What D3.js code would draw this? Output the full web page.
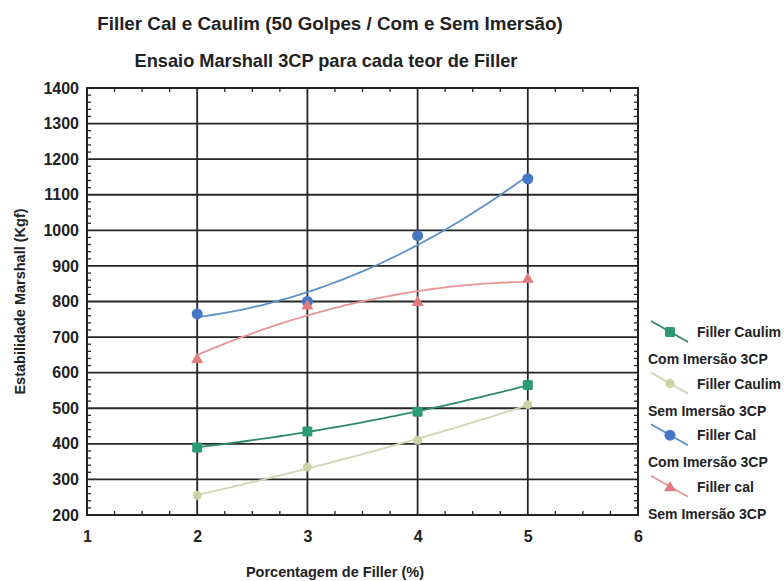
<!DOCTYPE html>
<html>
<head>
<meta charset="utf-8">
<script src="https://cdn.jsdelivr.net/npm/d3@7"></script>
<style>
  html, body { margin: 0; padding: 0; background: #fff; }
  svg text { font-family: "Liberation Sans", Arial, sans-serif; font-weight: bold; fill: #222; }
</style>
</head>
<body>
<svg id="chart" width="784" height="581"></svg>
<script>
// Filler content (%) tested
const fillerPct = [2, 3, 4, 5];

// Marshall stability (Kgf) for each mix
const caulimCom = [390, 435, 490, 565];
const caulimSem = [255, 335, 410, 510];
const calCom    = [765, 800, 985, 1145];
const calSem    = [640, 790, 800, 865];

// Axis ticks
const xTicks = [1, 2, 3, 4, 5, 6];
const yTicks = [200, 300, 400, 500, 600, 700, 800, 900, 1000, 1100, 1200, 1300, 1400];

const seriesNames = [
  ["Filler Caulim", "Com Imersão 3CP"],
  ["Filler Caulim", "Sem Imersão 3CP"],
  ["Filler Cal", "Com Imersão 3CP"],
  ["Filler cal", "Sem Imersão 3CP"]
];

const series = [
  { values: caulimCom, shape: "square",   fill: "#2c9a78", line: "#2f8a6c" },
  { values: caulimSem, shape: "circle",   fill: "#c9d3a3", line: "#cdd7b2", r: 4.5 },
  { values: calCom,    shape: "circle",   fill: "#4677c6", line: "#5b90c8", r: 5.5 },
  { values: calSem,    shape: "triangle", fill: "#e07c7c", line: "#e69696" }
];

const svg = d3.select("#chart");
const plot = { left: 87, right: 638, top: 88, bottom: 515 };

const x = d3.scaleLinear().domain([1, 6]).range([plot.left, plot.right]);
const y = d3.scaleLinear().domain([200, 1400]).range([plot.bottom, plot.top]);

// Titles
svg.append("text").attr("x", 330).attr("y", 30).attr("text-anchor", "middle")
  .style("font-size", "18.8px").text("Filler Cal e Caulim (50 Golpes / Com e Sem Imersão)");
svg.append("text").attr("x", 326).attr("y", 67).attr("text-anchor", "middle")
  .style("font-size", "18.2px").text("Ensaio Marshall 3CP para cada teor de Filler");

// Grid lines
const grid = svg.append("g").attr("stroke", "#262626").attr("stroke-width", 1.8);
grid.selectAll(".gy").data(yTicks).join("line")
  .attr("x1", plot.left).attr("x2", plot.right)
  .attr("y1", d => y(d)).attr("y2", d => y(d));
grid.selectAll(".gx").data(xTicks).join("line")
  .attr("y1", plot.top).attr("y2", plot.bottom)
  .attr("x1", d => x(d)).attr("x2", d => x(d));

// Minor ticks on all four sides, pointing inward
const xMinor = d3.range(1, 6.001, 0.25).filter(v => Math.abs(v - Math.round(v)) > 1e-6);
const yMinor = d3.range(200, 1400.1, 20).filter(v => v % 100 !== 0);
const minor = svg.append("g").attr("stroke", "#262626").attr("stroke-width", 1.3);
xMinor.forEach(v => {
  minor.append("line").attr("x1", x(v)).attr("x2", x(v)).attr("y1", plot.bottom).attr("y2", plot.bottom - 4);
  minor.append("line").attr("x1", x(v)).attr("x2", x(v)).attr("y1", plot.top).attr("y2", plot.top + 4);
});
yMinor.forEach(v => {
  minor.append("line").attr("y1", y(v)).attr("y2", y(v)).attr("x1", plot.left).attr("x2", plot.left + 4);
  minor.append("line").attr("y1", y(v)).attr("y2", y(v)).attr("x1", plot.right).attr("x2", plot.right - 4);
});

// Frame
svg.append("rect").attr("x", plot.left).attr("y", plot.top)
  .attr("width", plot.right - plot.left).attr("height", plot.bottom - plot.top)
  .attr("fill", "none").attr("stroke", "#222").attr("stroke-width", 2);

// Tick labels
const yAxis = d3.axisLeft(y).tickValues(yTicks).tickFormat(d3.format("d")).tickSize(0).tickPadding(8);
const gy = svg.append("g").attr("transform", `translate(${plot.left},0)`).call(yAxis);
gy.select(".domain").remove();
gy.selectAll("text").style("font-size", "16px").attr("fill", "#222");

const xAxis = d3.axisBottom(x).tickValues(xTicks).tickFormat(d3.format("d")).tickSize(0).tickPadding(16);
const gx = svg.append("g").attr("transform", `translate(0,${plot.bottom})`).call(xAxis);
gx.select(".domain").remove();
gx.selectAll("text").style("font-size", "16px").attr("fill", "#222");

// Axis titles
svg.append("text").attr("x", 335).attr("y", 577).attr("text-anchor", "middle")
  .style("font-size", "14.5px").text("Porcentagem de Filler (%)");
svg.append("text").attr("transform", `translate(25,${(plot.top + plot.bottom) / 2}) rotate(-90)`)
  .attr("text-anchor", "middle").style("font-size", "14.5px").text("Estabilidade Marshall (Kgf)");

// Least-squares quadratic trend for each series
function quadFit(xs, ys) {
  const n = xs.length;
  let s = [0, 0, 0, 0, 0], t = [0, 0, 0];
  for (let i = 0; i < n; i++) {
    for (let k = 0; k < 5; k++) s[k] += Math.pow(xs[i], k);
    for (let k = 0; k < 3; k++) t[k] += ys[i] * Math.pow(xs[i], k);
  }
  const A = [[s[0], s[1], s[2], t[0]], [s[1], s[2], s[3], t[1]], [s[2], s[3], s[4], t[2]]];
  for (let c = 0; c < 3; c++) {
    for (let r = c + 1; r < 3; r++) {
      const f = A[r][c] / A[c][c];
      for (let k = c; k < 4; k++) A[r][k] -= f * A[c][k];
    }
  }
  const b = [0, 0, 0];
  for (let r = 2; r >= 0; r--) {
    let v = A[r][3];
    for (let k = r + 1; k < 3; k++) v -= A[r][k] * b[k];
    b[r] = v / A[r][r];
  }
  return v => b[0] + b[1] * v + b[2] * v * v;
}

const line = d3.line().x(d => x(d[0])).y(d => y(d[1]));
const xs = d3.range(fillerPct[0], fillerPct[fillerPct.length - 1] + 1e-9, 0.05);

function drawMarker(g, s, cx, cy) {
  if (s.shape === "circle") {
    g.append("circle").attr("cx", cx).attr("cy", cy).attr("r", s.r).attr("fill", s.fill);
  } else if (s.shape === "square") {
    g.append("rect").attr("x", cx - 5).attr("y", cy - 5).attr("width", 10).attr("height", 10)
      .attr("rx", 1.5).attr("fill", s.fill);
  } else {
    g.append("path").attr("d", d3.symbol(d3.symbolTriangle, 62)()).attr("transform", `translate(${cx},${cy + 1})`)
      .attr("fill", s.fill);
  }
}

const marks = svg.append("g");
series.forEach(s => {
  const f = quadFit(fillerPct, s.values);
  marks.append("path").datum(xs.map(v => [v, f(v)])).attr("d", line)
    .attr("fill", "none").attr("stroke", s.line).attr("stroke-width", 1.8);
});
series.forEach(s => {
  s.values.forEach((v, i) => drawMarker(marks, s, x(fillerPct[i]), y(v)));
});

// Legend
const legend = svg.append("g");
series.forEach((s, i) => {
  const cy = 332 + i * 51.6;
  const cx = 670;
  legend.append("line").attr("x1", cx - 19).attr("y1", cy - 11).attr("x2", cx + 18).attr("y2", cy + 10)
    .attr("stroke", s.line).attr("stroke-width", 1.8);
  drawMarker(legend, s, cx, cy);
  legend.append("text").attr("x", 697).attr("y", cy + 5).style("font-size", "14px").text(seriesNames[i][0]);
  legend.append("text").attr("x", 648).attr("y", cy + 32).style("font-size", "14px").text(seriesNames[i][1]);
});
</script>
</body>
</html>
